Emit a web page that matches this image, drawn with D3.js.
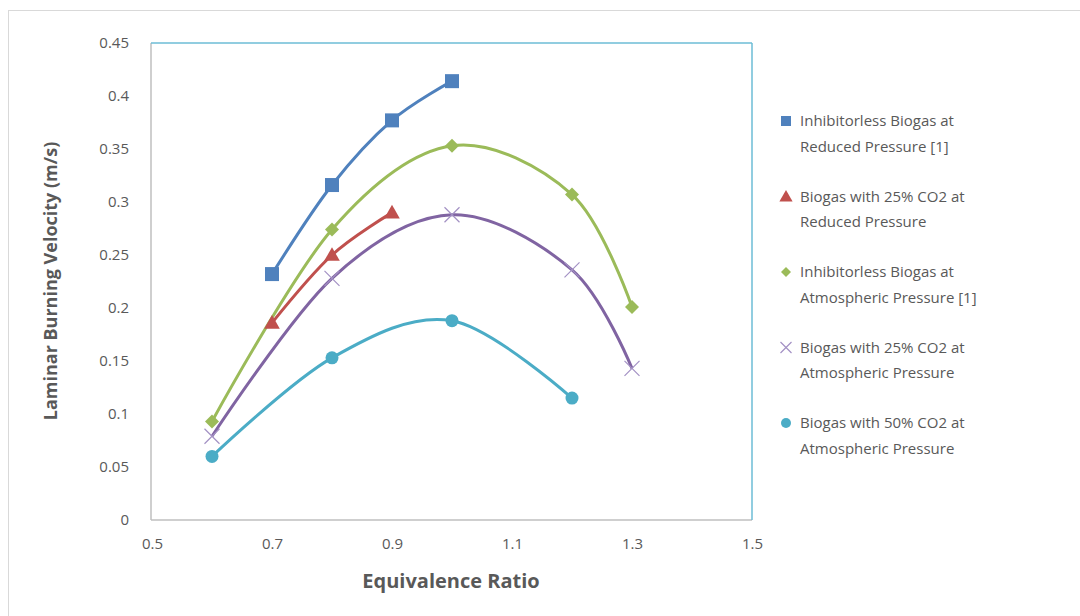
<!DOCTYPE html>
<html>
<head>
<meta charset="utf-8">
<script src="https://cdn.jsdelivr.net/npm/d3@7"></script>
<style>
  body { margin: 0; background: #fff; }
  text { font-family: "Open Sans", "DejaVu Sans", sans-serif; }
</style>
</head>
<body>
<div id="container"></div>
<script>
// values
const seriesNames = [
    ["Inhibitorless Biogas at", "Reduced Pressure [1]"],
    ["Biogas with 25% CO2 at", "Reduced Pressure"],
    ["Inhibitorless Biogas at", "Atmospheric Pressure [1]"],
    ["Biogas with 25% CO2 at", "Atmospheric Pressure"],
    ["Biogas with 50% CO2 at", "Atmospheric Pressure"]
];
const seriesColors = ["#4f81bd", "#c0504d", "#9bbb59", "#8064a2", "#4bacc6"];
const seriesMarkers = ["square", "triangle", "diamond", "cross", "circle"];

const inhibReducedX = [0.7, 0.8, 0.9, 1.0];
const inhibReducedY = [0.232, 0.316, 0.377, 0.414];
const co2_25ReducedX = [0.7, 0.8, 0.9];
const co2_25ReducedY = [0.186, 0.250, 0.290];
const inhibAtmX = [0.6, 0.8, 1.0, 1.2, 1.3];
const inhibAtmY = [0.093, 0.274, 0.353, 0.307, 0.201];
const co2_25AtmX = [0.6, 0.8, 1.0, 1.2, 1.3];
const co2_25AtmY = [0.079, 0.228, 0.288, 0.236, 0.143];
const co2_50AtmX = [0.6, 0.8, 1.0, 1.2];
const co2_50AtmY = [0.060, 0.153, 0.188, 0.115];

const xTicks = [0.5, 0.7, 0.9, 1.1, 1.3, 1.5];
const yTicks = [0, 0.05, 0.1, 0.15, 0.2, 0.25, 0.3, 0.35, 0.4, 0.45];

const allX = [inhibReducedX, co2_25ReducedX, inhibAtmX, co2_25AtmX, co2_50AtmX];
const allY = [inhibReducedY, co2_25ReducedY, inhibAtmY, co2_25AtmY, co2_50AtmY];

const series = allX.map((xs, i) => ({
    name: seriesNames[i],
    color: seriesColors[i],
    marker: seriesMarkers[i],
    points: xs.map((x, j) => ({ x: x, y: allY[i][j] }))
}));

const W = 1080, H = 616;
const svg = d3.select("#container").append("svg")
    .attr("width", W)
    .attr("height", H);

// outer chart frame
svg.append("rect")
    .attr("x", 8.5).attr("y", 10.5)
    .attr("width", 1080).attr("height", 620)
    .attr("fill", "#fff")
    .attr("stroke", "#d9d9d9");

const plotLeft = 151, plotRight = 752, plotTop = 43, plotBottom = 520;
const xScale = d3.scaleLinear().domain([0.5, 1.5]).range([plotLeft + 1, plotRight]);
const yScale = d3.scaleLinear().domain([0, 0.45]).range([plotBottom, plotTop]);

// plot area borders
svg.append("line").attr("x1", plotLeft).attr("x2", plotLeft).attr("y1", plotTop).attr("y2", plotBottom)
    .attr("stroke", "#bfbfbf").attr("stroke-width", 1.5);
svg.append("line").attr("x1", plotLeft).attr("x2", plotRight).attr("y1", plotBottom).attr("y2", plotBottom)
    .attr("stroke", "#bfbfbf").attr("stroke-width", 1.5);
svg.append("line").attr("x1", plotLeft).attr("x2", plotRight).attr("y1", plotTop).attr("y2", plotTop)
    .attr("stroke", "#6cbcd6").attr("stroke-width", 1.5);
svg.append("line").attr("x1", plotRight).attr("x2", plotRight).attr("y1", plotTop).attr("y2", plotBottom)
    .attr("stroke", "#6cbcd6").attr("stroke-width", 1.5);

// axes
const xAxis = d3.axisBottom(xScale).tickValues(xTicks).tickSize(0).tickPadding(18)
    .tickFormat(d3.format(""));
const xAxisGroup = svg.append("g").attr("transform", "translate(0," + plotBottom + ")").call(xAxis);
xAxisGroup.select(".domain").remove();
xAxisGroup.selectAll("text")
    .style("font-size", "15px").attr("fill", "#595959")
    .style("font-family", '"Open Sans", sans-serif');

const yAxis = d3.axisLeft(yScale).tickValues(yTicks).tickSize(0).tickPadding(22)
    .tickFormat(d3.format(""));
const yAxisGroup = svg.append("g").attr("transform", "translate(" + plotLeft + ",0)").call(yAxis);
yAxisGroup.select(".domain").remove();
yAxisGroup.selectAll("text")
    .style("font-size", "15px").attr("fill", "#595959")
    .style("font-family", '"Open Sans", sans-serif');

// axis titles
svg.append("text")
    .attr("x", 451).attr("y", 588)
    .attr("text-anchor", "middle")
    .attr("fill", "#595959")
    .style("font-size", "20px").style("font-weight", "bold")
    .text("Equivalence Ratio");

svg.append("text")
    .attr("transform", "translate(57,281) rotate(-90)")
    .attr("text-anchor", "middle")
    .attr("fill", "#595959")
    .style("font-size", "18px").style("font-weight", "bold")
    .text("Laminar Burning Velocity (m/s)");

// lines
const lineMaker = d3.line()
    .x(d => xScale(d.x))
    .y(d => yScale(d.y))
    .curve(d3.curveCatmullRom.alpha(0));

svg.selectAll(".series-line").data(series)
    .enter()
    .append("path")
    .attr("class", "series-line")
    .attr("d", d => lineMaker(d.points))
    .attr("stroke", d => d.color)
    .attr("stroke-width", 3)
    .attr("fill", "none");

// markers
function drawMarker(g, type, color, size) {
    const s = size;
    if (type === "square") {
        g.append("rect").attr("x", -s / 2).attr("y", -s / 2).attr("width", s).attr("height", s)
            .attr("fill", color);
    } else if (type === "triangle") {
        g.append("path").attr("d", `M0,${-s * 0.6}L${s * 0.6},${s * 0.45}L${-s * 0.6},${s * 0.45}Z`)
            .attr("fill", color);
    } else if (type === "diamond") {
        g.append("path").attr("d", `M0,${-s / 2}L${s / 2},0L0,${s / 2}L${-s / 2},0Z`)
            .attr("fill", color);
    } else if (type === "cross") {
        const h = s / 2;
        g.append("path").attr("d", `M${-h},${-h}L${h},${h}M${-h},${h}L${h},${-h}`)
            .attr("stroke", color).attr("stroke-width", 1.2).attr("fill", "none");
    } else if (type === "circle") {
        g.append("circle").attr("r", s / 2).attr("fill", color);
    }
}

const markerSize = { square: 14, triangle: 13, diamond: 14, cross: 15, circle: 13 };
const crossColor = "#a391c4";

series.forEach(sr => {
    sr.points.forEach(p => {
        const g = svg.append("g")
            .attr("transform", "translate(" + xScale(p.x) + "," + yScale(p.y) + ")");
        drawMarker(g, sr.marker, sr.marker === "cross" ? crossColor : sr.color, markerSize[sr.marker]);
    });
});

// legend
const legend = svg.append("g").attr("transform", "translate(786,121)");
series.forEach((sr, i) => {
    const row = legend.append("g").attr("transform", "translate(0," + (i * 75.5) + ")");
    const mg = row.append("g").attr("transform", "translate(0,0)");
    const legendSize = { square: 10, triangle: 11, diamond: 10, cross: 11, circle: 10 };
    drawMarker(mg, sr.marker, sr.marker === "cross" ? crossColor : sr.color, legendSize[sr.marker]);
    sr.name.forEach((line, k) => {
        row.append("text")
            .attr("x", 14).attr("y", k * 25.5 + 5)
            .attr("fill", "#595959")
            .style("font-size", "15px")
            .text(line);
    });
});
</script>
</body>
</html>
